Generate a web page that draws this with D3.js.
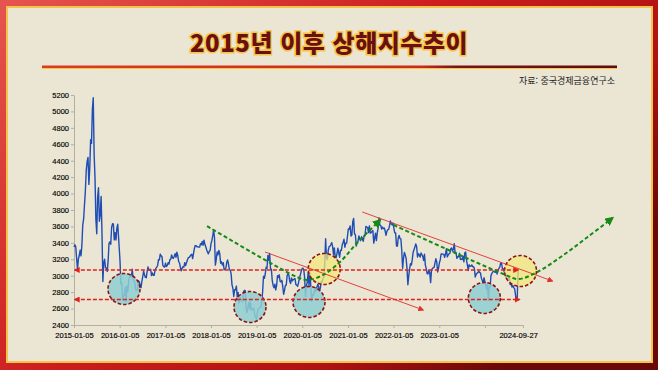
<!DOCTYPE html>
<html lang="ko">
<head>
<meta charset="UTF-8">
<meta name="viewport" content="width=device-width, initial-scale=1.0">
<title>2015년 이후 상해지수추이</title>
<style>
    body {
        margin: 0;
        padding: 0;
        background: #b81414;
    }
    svg {
        display: block;
    }
    .axis text {
        font-family: "Liberation Sans", Arial, sans-serif;
        font-size: 7.5px;
        fill: #000;
        stroke: #000;
        stroke-width: 0.15px;
    }
    .axis path, .axis line {
        stroke: #b4afa0;
    }
</style>
</head>
<body>
<div id="chart"></div>

<script src="https://cdn.jsdelivr.net/npm/d3@7"></script>
<script>
    // weekly closes of the Shanghai Composite
    const yearStarts = ["2015-01-05", "2016-01-08", "2017-01-06", "2018-01-05", "2019-01-04",
                        "2020-01-03", "2021-01-08", "2022-01-07", "2023-01-06", "2024-01-05"];

    const close2015 = [3350, 3376, 3351, 3210, 3076, 3203, 3246, 3310, 3241, 3372, 3617, 3691, 3863,
        4034, 4287, 4393, 4441, 4112, 4308, 4657, 4611, 5023, 5166, 4478, 4192, 3686, 3510, 3957, 4070,
        3663, 3744, 3965, 3507, 2930, 3160, 3200, 3097, 3092, 3053, 3183, 3391, 3412, 3383, 3590, 3632,
        3630, 3436, 3525, 3435, 3579, 3627];
    const close2016 = [3186, 2900, 2916, 2700, 2763, 2763, 2860, 2690, 2874, 2810, 2955, 2979, 3009,
        2985, 3078, 2960, 2938, 2913, 2827, 2825, 2822, 2938, 2927, 2885, 2854, 2932, 2989, 3054, 3012,
        2979, 2976, 3050, 3108, 3070, 3067, 3078, 3002, 3033, 3005, 3005, 3063, 3090, 3104, 3125, 3196,
        3193, 3262, 3243, 3232, 3123, 3110, 3104];
    const close2017 = [3154, 3112, 3123, 3159, 3140, 3196, 3202, 3253, 3218, 3212, 3237, 3269, 3223,
        3287, 3246, 3173, 3155, 3103, 3061, 3090, 3110, 3105, 3158, 3123, 3157, 3192, 3217, 3222, 3237,
        3253, 3262, 3208, 3268, 3331, 3367, 3365, 3353, 3352, 3348, 3348, 3390, 3378, 3416, 3371, 3432,
        3382, 3353, 3317, 3289, 3266, 3297, 3307];
    const close2018 = [3391, 3429, 3488, 3558, 3462, 3129, 3199, 3289, 3254, 3307, 3269, 3152, 3169,
        3131, 3159, 3071, 3082, 3091, 3163, 3193, 3141, 3075, 3067, 3022, 2889, 2847, 2747, 2831, 2829,
        2874, 2740, 2795, 2669, 2730, 2725, 2703, 2682, 2797, 2821, 2821, 2606, 2550, 2598, 2676, 2599,
        2680, 2579, 2588, 2605, 2593, 2516, 2494];
    const close2019 = [2470, 2553, 2596, 2601, 2618, 2618, 2682, 2804, 2994, 2969, 3021, 3104, 3090,
        3247, 3189, 3270, 3086, 3078, 2939, 2882, 2852, 2898, 2827, 2881, 3001, 2979, 3011, 2930, 2924,
        2944, 2867, 2774, 2823, 2883, 2886, 2999, 3031, 3006, 2932, 2905, 2974, 2938, 2954, 2958, 2964,
        2891, 2885, 2871, 2912, 2967, 3005, 3050];
    const close2020 = [3083, 3092, 3075, 2976, 2746, 2876, 2917, 3039, 2880, 3034, 2887, 2690, 2772,
        2764, 2796, 2839, 2809, 2860, 2895, 2868, 2813, 2852, 2931, 2920, 2968, 2980, 3152, 3450, 3214,
        3196, 3310, 3354, 3360, 3380, 3403, 3355, 3260, 3338, 3219, 3218, 3272, 3336, 3278, 3225, 3312,
        3310, 3378, 3408, 3444, 3347, 3395, 3397];
    const close2021 = [3570, 3566, 3606, 3483, 3496, 3655, 3696, 3509, 3502, 3360, 3405, 3418, 3484,
        3451, 3426, 3474, 3447, 3418, 3490, 3487, 3600, 3592, 3589, 3525, 3607, 3519, 3524, 3539, 3550,
        3397, 3458, 3517, 3427, 3522, 3581, 3703, 3614, 3613, 3568, 3592, 3572, 3582, 3547, 3491, 3539,
        3560, 3564, 3607, 3666, 3632, 3618, 3640];
    const close2022 = [3580, 3521, 3522, 3361, 3361, 3462, 3491, 3451, 3447, 3309, 3090, 3212, 3282,
        3251, 3211, 3087, 2890, 3001, 3084, 3146, 3130, 3195, 3285, 3316, 3349, 3387, 3356, 3228, 3269,
        3253, 3227, 3276, 3258, 3236, 3186, 3262, 3126, 3089, 3024, 3024, 3071, 3038, 2916, 3071, 3087,
        3097, 3101, 3156, 3206, 3168, 3046, 3089];
    const close2023 = [3157, 3195, 3265, 3265, 3263, 3260, 3224, 3267, 3328, 3230, 3250, 3266, 3273,
        3327, 3338, 3301, 3323, 3390, 3272, 3283, 3212, 3230, 3231, 3273, 3198, 3202, 3197, 3237, 3168,
        3276, 3288, 3189, 3131, 3064, 3133, 3116, 3117, 3132, 3110, 3110, 3088, 2983, 3017, 3030, 3038,
        3054, 3041, 3032, 2970, 2942, 2914, 2975];
    const close2024 = [2929, 2882, 2832, 2910, 2700, 2866, 2866, 3004, 3027, 3046, 3054, 3048, 3041,
        3069, 3019, 3065, 3088, 3105, 3154, 3154, 3089, 3087, 3051, 3033, 2998, 2967, 2950, 2971, 2982,
        2891, 2905, 2862, 2880, 2855, 2842, 2765, 2704, 2736, 3088];

    const weeklyCloses = [close2015, close2016, close2017, close2018, close2019,
                          close2020, close2021, close2022, close2023, close2024];

    const tickDates = ["2015-01-05", "2016-01-05", "2017-01-05", "2018-01-05", "2019-01-05", "2020-01-05",
                       "2021-01-05", "2022-01-05", "2023-01-05", "2024-01-05", "2024-09-27"];
    const hiddenTicks = ["2024-01-05"];
    const yTicks = [2400, 2600, 2800, 3000, 3200, 3400, 3600, 3800, 4000, 4200, 4400, 4600, 4800, 5000, 5200];

    // annotation anchors (date, index level)
    const levels = [3070, 2710];
    const levelEnds = [["2015-01-12", "2024-09-27"], ["2015-01-12", "2024-10-08"]];
    const bottoms = [["2016-02-09", 2838], ["2018-11-13", 2619], ["2020-02-28", 2680], ["2024-01-01", 2729]];
    const breakouts = [["2020-06-29", 3082], ["2024-10-16", 3057]];
    const redTrends = [
        [["2019-03-13", 3289], ["2022-08-29", 2583]],
        [["2021-04-29", 3776], ["2025-06-28", 2936]]
    ];
    const greenPaths = [
        [["2017-12-04", 3605], ["2019-11-24", 2984], ["2020-02-17", 2948], ["2020-06-20", 3009],
         ["2020-11-02", 3167], ["2021-03-18", 3398], ["2021-09-20", 3678]],
        [["2022-01-05", 3617], ["2024-06-01", 3021], ["2024-09-29", 2960], ["2025-02-28", 3045],
         ["2025-09-25", 3252], ["2026-04-06", 3471], ["2026-10-23", 3703]]
    ];

    const W = 658, H = 370;
    const parse = d3.utcParse("%Y-%m-%d");
    const fmtDay = d3.utcFormat("%Y-%m-%d");

    const series = weeklyCloses.flatMap((closes, k) =>
        closes.map((v, i) => ({ date: d3.utcDay.offset(parse(yearStarts[k]), 7 * i), value: v })));

    const x = d3.scaleUtc()
        .domain([parse("2015-01-05"), parse("2024-11-05")])
        .range([74, 523]);
    const y = d3.scaleLinear()
        .domain([2400, 5200])
        .range([325, 95]);

    const svg = d3.select("#chart").append("svg")
        .attr("width", W)
        .attr("height", H);
    const defs = svg.append("defs");

    const bg = defs.append("linearGradient").attr("id", "bg")
        .attr("x1", 0).attr("y1", 0).attr("x2", 1).attr("y2", 0.6);
    bg.append("stop").attr("offset", 0).attr("stop-color", "#e5554f");
    bg.append("stop").attr("offset", 0.5).attr("stop-color", "#cc1d1d");
    bg.append("stop").attr("offset", 0.8).attr("stop-color", "#b01212");
    bg.append("stop").attr("offset", 1).attr("stop-color", "#6a0808");

    const rule = defs.append("linearGradient").attr("id", "rule");
    rule.append("stop").attr("offset", 0).attr("stop-color", "#dc3d1c");
    rule.append("stop").attr("offset", 0.66).attr("stop-color", "#c92c18");
    rule.append("stop").attr("offset", 0.72).attr("stop-color", "#7a1410");
    rule.append("stop").attr("offset", 1).attr("stop-color", "#5e0d0d");

    function arrow(id, color, size) {
        defs.append("marker")
            .attr("id", id)
            .attr("viewBox", "0 0 10 10")
            .attr("refX", 8).attr("refY", 5)
            .attr("markerWidth", size).attr("markerHeight", size)
            .attr("markerUnits", "userSpaceOnUse")
            .attr("orient", "auto-start-reverse")
            .append("path")
            .attr("d", "M0,0L10,5L0,10Z")
            .attr("fill", color);
    }
    arrow("redArrow", "#e0201c", 6);
    arrow("thinArrow", "#e0302a", 6);
    arrow("greenArrow", "#158a15", 9);

    // frame
    svg.append("rect").attr("width", W).attr("height", H).attr("fill", "url(#bg)");
    svg.append("rect")
        .attr("x", 7).attr("y", 7).attr("width", 645).attr("height", 355)
        .attr("fill", "#ebe5d4")
        .attr("stroke", "#f4c34c").attr("stroke-width", 2);

    // title
    svg.append("text")
        .attr("x", 329).attr("y", 52)
        .attr("text-anchor", "middle")
        .attr("font-family", "'Noto Sans CJK KR', sans-serif")
        .attr("font-weight", 900)
        .attr("font-size", 24)
        .attr("letter-spacing", 0.5)
        .attr("fill", "#6a1010")
        .attr("stroke", "#f6c545")
        .attr("stroke-width", 3)
        .attr("paint-order", "stroke")
        .text("2015년 이후 상해지수추이");

    svg.append("rect").attr("x", 42).attr("y", 68).attr("width", 575).attr("height", 1).attr("fill", "#f6c545");
    svg.append("rect").attr("x", 42).attr("y", 65.5).attr("width", 575).attr("height", 2.5).attr("fill", "url(#rule)");

    svg.append("text")
        .attr("x", 615).attr("y", 84)
        .attr("text-anchor", "end")
        .attr("font-family", "'Noto Sans CJK KR', sans-serif")
        .attr("font-size", 9)
        .attr("fill", "#222")
        .text("자료: 중국경제금융연구소");

    // axes
    svg.append("g")
        .attr("class", "axis")
        .attr("transform", "translate(0,325)")
        .call(d3.axisBottom(x)
            .tickValues(tickDates.map(parse))
            .tickSizeOuter(0)
            .tickSize(3)
            .tickPadding(5)
            .tickFormat(d => hiddenTicks.includes(fmtDay(d)) ? "" : fmtDay(d)))
        .call(g => g.selectAll(".tick").filter(d => fmtDay(d) === "2024-09-27")
            .select("line").remove());

    svg.append("g")
        .attr("class", "axis")
        .attr("transform", "translate(74,0)")
        .call(d3.axisLeft(y)
            .tickValues(yTicks)
            .tickSize(3)
            .tickSizeOuter(0)
            .tickPadding(2)
            .tickFormat(d3.format("d")));

    // index line
    const line = d3.line()
        .x(d => x(d.date))
        .y(d => y(d.value));

    svg.append("path")
        .datum(series)
        .attr("fill", "none")
        .attr("stroke", "#1f4db4")
        .attr("stroke-width", 1.4)
        .attr("stroke-linejoin", "round")
        .attr("d", line);

    // circles
    const pt = d => [x(parse(d[0])), y(d[1])];

    svg.selectAll("ellipse.bottom")
        .data(bottoms)
        .enter().append("ellipse")
        .attr("class", "bottom")
        .attr("cx", d => pt(d)[0]).attr("cy", d => pt(d)[1])
        .attr("rx", 16).attr("ry", 15.5)
        .attr("fill", "#8fcfd2").attr("fill-opacity", 0.85)
        .attr("stroke", "#8a1414").attr("stroke-width", 1.6)
        .attr("stroke-dasharray", "3.5,2");

    svg.selectAll("ellipse.breakout")
        .data(breakouts)
        .enter().append("ellipse")
        .attr("class", "breakout")
        .attr("cx", d => pt(d)[0]).attr("cy", d => pt(d)[1])
        .attr("rx", 16).attr("ry", 15.5)
        .attr("fill", "#f3e77c").attr("fill-opacity", 0.75)
        .attr("stroke", "#8a1414").attr("stroke-width", 1.6)
        .attr("stroke-dasharray", "3.5,2");

    // support / resistance
    svg.selectAll("line.level")
        .data(levels)
        .enter().append("line")
        .attr("class", "level")
        .attr("x1", (d, i) => x(parse(levelEnds[i][0])))
        .attr("x2", (d, i) => x(parse(levelEnds[i][1])))
        .attr("y1", d => y(d)).attr("y2", d => y(d))
        .attr("stroke", "#e0201c")
        .attr("stroke-width", 1.4)
        .attr("stroke-dasharray", "4,2")
        .attr("marker-start", "url(#redArrow)")
        .attr("marker-end", "url(#redArrow)");

    // thin red trend lines
    svg.selectAll("line.trend")
        .data(redTrends)
        .enter().append("line")
        .attr("class", "trend")
        .attr("x1", d => pt(d[0])[0]).attr("y1", d => pt(d[0])[1])
        .attr("x2", d => pt(d[1])[0]).attr("y2", d => pt(d[1])[1])
        .attr("stroke", "#e0302a")
        .attr("stroke-width", 0.9)
        .attr("marker-end", "url(#thinArrow)");

    // green dashed paths
    const curve = d3.line()
        .x(d => pt(d)[0])
        .y(d => pt(d)[1])
        .curve(d3.curveCatmullRom.alpha(0.5));

    svg.selectAll("path.green")
        .data(greenPaths)
        .enter().append("path")
        .attr("class", "green")
        .attr("fill", "none")
        .attr("stroke", "#158a15")
        .attr("stroke-width", 2)
        .attr("stroke-dasharray", "4,2.5")
        .attr("d", curve)
        .attr("marker-end", "url(#greenArrow)");
</script>
</body>
</html>
